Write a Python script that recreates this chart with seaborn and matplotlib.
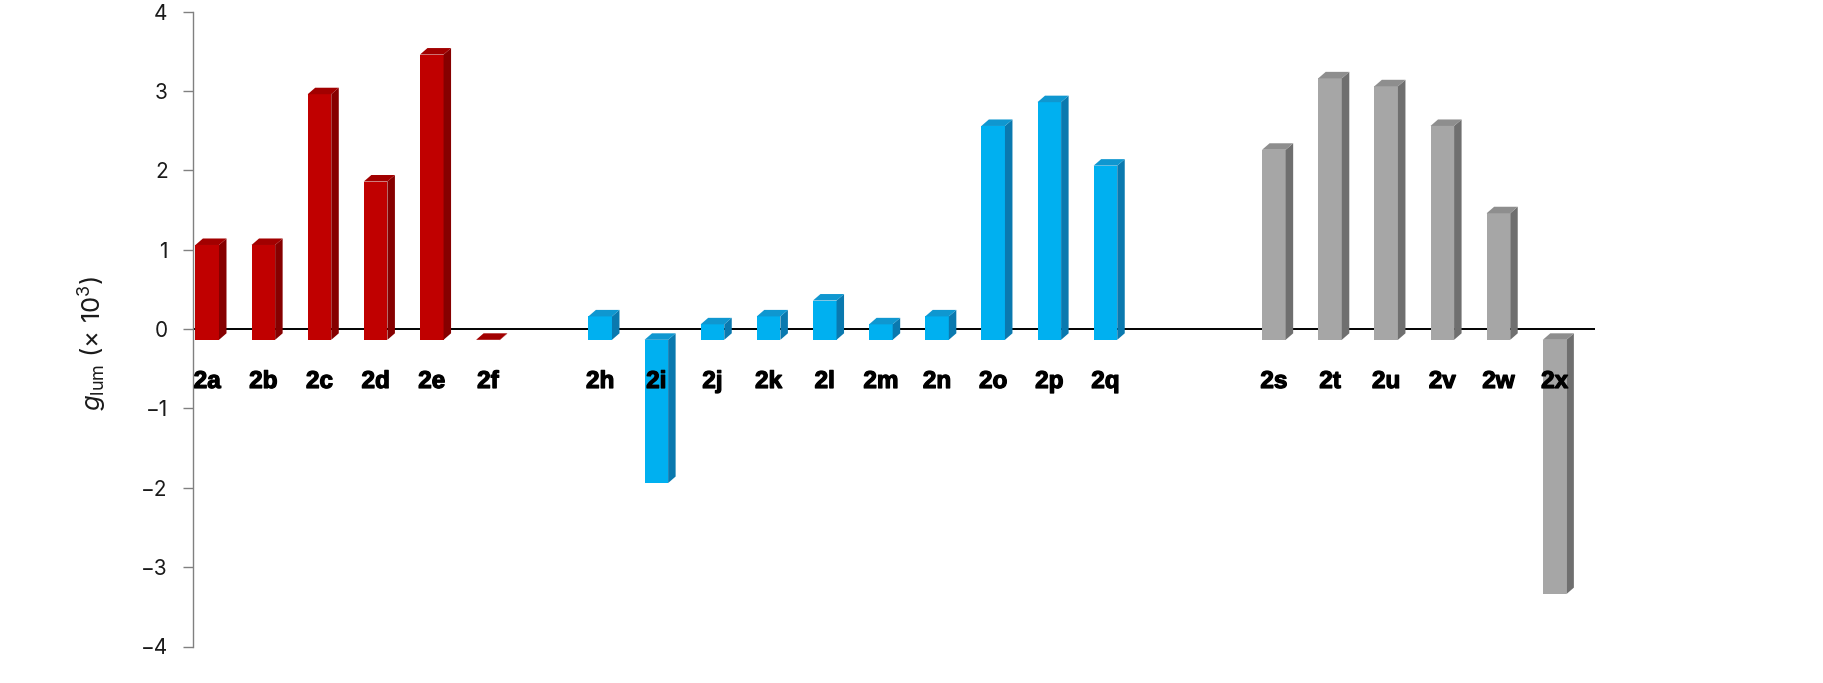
import numpy as np
import pandas as pd
import matplotlib
matplotlib.use("Agg")
import matplotlib.pyplot as plt
import matplotlib.patheffects as pe
import seaborn as sns
from matplotlib.patches import Polygon

# ---------------- data ----------------
slots = ["2a", "2b", "2c", "2d", "2e", "2f", " ",
         "2h", "2i", "2j", "2k", "2l", "2m", "2n", "2o", "2p", "2q", "  ", "   ",
         "2s", "2t", "2u", "2v", "2w", "2x"]

red_labels = ["2a", "2b", "2c", "2d", "2e", "2f"]
red_values = [1.1, 1.1, 3.0, 1.9, 3.5, -0.1]

blue_labels = ["2h", "2i", "2j", "2k", "2l", "2m", "2n", "2o", "2p", "2q"]
blue_values = [0.2, -1.9, 0.1, 0.2, 0.4, 0.1, 0.2, 2.6, 2.9, 2.1]

grey_labels = ["2s", "2t", "2u", "2v", "2w", "2x"]
grey_values = [2.3, 3.2, 3.1, 2.6, 1.5, -3.3]

groups = ["red", "blue", "grey"]
front_colors = {"red": "#C00000", "blue": "#00B0F0", "grey": "#A6A6A6"}
top_colors = {"red": "#A20000", "blue": "#0F97D0", "grey": "#8E8E8E"}
side_colors = {"red": "#860000", "blue": "#0A79AF", "grey": "#6F6F6F"}

yticks = [-4, -3, -2, -1, 0, 1, 2, 3, 4]

df = pd.DataFrame({
    "label": red_labels + blue_labels + grey_labels,
    "value": red_values + blue_values + grey_values,
    "group": ["red"] * len(red_labels) + ["blue"] * len(blue_labels) + ["grey"] * len(grey_labels),
})

# ---------------- style ----------------
sns.set_style("ticks")
plt.rcParams["font.family"] = ["Inter", "Roboto", "DejaVu Sans"]
plt.rcParams["mathtext.fontset"] = "custom"
plt.rcParams["mathtext.rm"] = "Inter"
plt.rcParams["mathtext.it"] = "Inter:italic"
plt.rcParams["axes.unicode_minus"] = True

W, H = 1823, 683
fig = plt.figure(figsize=(W / 100, H / 100), dpi=100)
ax_left, ax_right = 193 / W, 1595 / W
ax_top, ax_bottom = 1 - 11.7 / H, 1 - 646.5 / H
ax = fig.add_axes([ax_left, ax_bottom, ax_right - ax_left, ax_top - ax_bottom])

sns.barplot(data=df, x="label", y="value", hue="group", order=slots,
            hue_order=groups, palette=front_colors, dodge=False, width=0.42,
            saturation=1, legend=False, ax=ax, linewidth=0, zorder=3)

ax.set_xlim(-0.253, 24.72)
ax.set_ylim(-4, 4)

# pixel -> data conversion for the 3D depth
fig.canvas.draw()
p0 = ax.transData.transform((0, 0))
p1 = ax.transData.transform((1, 1))
px_x = p1[0] - p0[0]
px_y = p1[1] - p0[1]
ddx = 7.5 / px_x
ddy = 6.5 / px_y
BASE = -0.135
SHIFT = 0.04

for grp, cont in zip(groups, ax.containers):
    for patch in cont:
        v = patch.get_height()
        if np.isnan(v):
            continue
        x = patch.get_x()
        w = patch.get_width()
        end = v - SHIFT
        lo, hi = min(BASE, end), max(BASE, end)
        patch.set_y(lo)
        patch.set_height(hi - lo)
        patch.set_edgecolor("none")
        side = Polygon([(x + w, lo), (x + w + ddx, lo + ddy),
                        (x + w + ddx, hi + ddy), (x + w, hi)],
                       closed=True, facecolor=side_colors[grp], edgecolor="none", zorder=3)
        top = Polygon([(x, hi), (x + ddx, hi + ddy),
                       (x + w + ddx, hi + ddy), (x + w, hi)],
                      closed=True, facecolor=top_colors[grp], edgecolor="none", zorder=3)
        ax.add_patch(side)
        ax.add_patch(top)

# zero line
ax.axhline(0, color="black", lw=1.4, zorder=1)

# category labels
for i, lab in enumerate(slots):
    if lab.strip():
        ax.text(i, -0.66, lab, ha="center", va="center", fontsize=17.5,
                fontweight="bold", family=["Liberation Sans", "DejaVu Sans"],
                color="black", zorder=6,
                path_effects=[pe.withStroke(linewidth=0.9, foreground="black")])

# axes styling
for s in ["top", "right", "bottom"]:
    ax.spines[s].set_visible(False)
ax.spines["left"].set_color("#808080")
ax.spines["left"].set_linewidth(1.0)
ax.set_xticks([])
ax.set_yticks(yticks)
ax.set_yticklabels([f"{t}".replace("-", "\u2212") for t in yticks])
ax.tick_params(axis="y", direction="out", length=7.2, width=1.0, color="#808080",
               labelsize=15, labelcolor="#1a1a1a", pad=11)
ax.set_xlabel("")
ax.set_ylabel("")
ax.set_facecolor("white")

fig.text(93 / W, 1 - 343 / H, r"$g_{\mathrm{lum}}$ (× 10$^{3}$)", rotation=90,
         ha="center", va="center", fontsize=18.5, color="#1a1a1a")

fig.savefig("out.png", dpi=100, facecolor="white")
